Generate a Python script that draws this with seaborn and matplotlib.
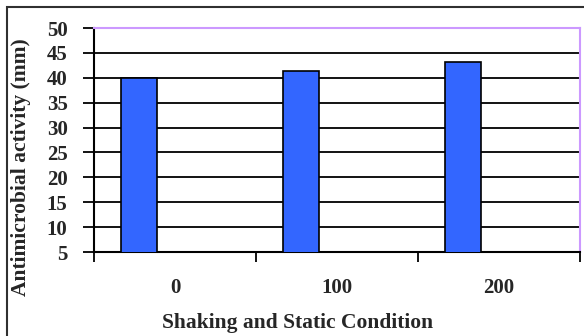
import matplotlib
matplotlib.use("Agg")
import matplotlib.pyplot as plt
import matplotlib.patches as mpatches
from matplotlib.ticker import FixedLocator
import seaborn as sns
import pandas as pd

# Data
conditions = ["0", "100", "200"]
activity = [40, 41.3, 43.2]
series_names = ["Series1", "Series2", "Series3"]
y_ticks = [5, 10, 15, 20, 25, 30, 35, 40, 45, 50]

df = pd.DataFrame({
    "condition": conditions,
    "activity": activity,
    "series": [series_names[0]] * len(conditions),
})

sns.set_theme(style="white")
plt.rcParams["font.family"] = ["Liberation Serif", "DejaVu Serif"]
plt.rcParams["font.weight"] = "bold"

W, H = 584, 336
fig = plt.figure(figsize=(W / 100, H / 100), dpi=100)
fig.patch.set_facecolor("white")

# outer chart frame
fig.patches.append(mpatches.Rectangle((7 / W, -0.05), 1.1, 1 - 7 / H + 0.05,
                                      transform=fig.transFigure, fill=False,
                                      edgecolor="#303030", linewidth=1.5))

ax = fig.add_axes([94 / W, 1 - 252 / H, (580 - 94) / W, (252 - 28) / H])
ax.set_facecolor("white")

sns.barplot(data=df, x="condition", y="activity", hue="series",
            hue_order=series_names, order=conditions, dodge=True,
            palette=["#3366FF", "#993366", "#FFFFCC"], saturation=1,
            width=0.667, edgecolor="black", linewidth=1.2,
            legend=False, ax=ax, zorder=3)

ax.set_ylim(5, 50)
ax.set_xlim(-0.5, len(conditions) - 0.5)
ax.set_yticks(y_ticks)
ax.yaxis.grid(True, color="black", linewidth=1.3, zorder=1)
ax.set_axisbelow(True)

# category boundary ticks on the x axis
ax.xaxis.set_minor_locator(FixedLocator([i - 0.5 for i in range(len(conditions) + 1)]))
ax.tick_params(axis="x", which="major", length=0, pad=19, labelsize=15)
ax.tick_params(axis="x", which="minor", length=7, width=1.3, color="black", direction="out", bottom=True)
ax.tick_params(axis="y", which="major", length=8, width=1.3, color="black", direction="out",
               left=True, pad=11, labelsize=15)
for lbl in ax.get_xticklabels() + ax.get_yticklabels():
    lbl.set_fontweight("bold")

for side in ["left", "bottom"]:
    ax.spines[side].set_color("black")
    ax.spines[side].set_linewidth(1.5)
for side in ["top", "right"]:
    ax.spines[side].set_color("#CC99FF")
    ax.spines[side].set_linewidth(1.5)
    ax.spines[side].set_visible(True)

ax.set_xlabel("")
ax.set_ylabel("")
fig.text(298 / W, 1 - 323 / H, "Shaking and Static Condition", ha="center", va="center",
         fontsize=15.5, fontweight="bold")
fig.text(21 / W, 1 - 167 / H, "Antimicrobial activity (mm)", ha="center", va="center",
         rotation=90, fontsize=15.5, fontweight="bold")

fig.savefig("out.png", dpi=100, facecolor="white")
